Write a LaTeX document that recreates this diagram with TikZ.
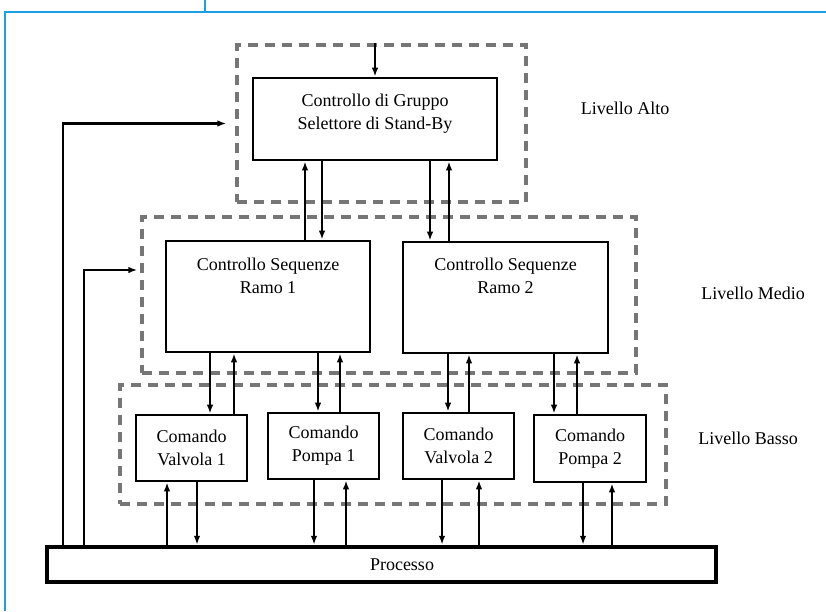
\documentclass[tikz,border=0pt]{standalone}
\usepackage{fontspec}
\setmainfont{Liberation Serif}
\usetikzlibrary{arrows.meta}

\definecolor{framecol}{RGB}{27,161,226}
\definecolor{dashgray}{RGB}{118,118,118}

\begin{document}
\begin{tikzpicture}[x=1pt, y=-1pt,
    box/.style={draw, line width=2.6pt, inner sep=0pt},
    level/.style={draw=dashgray, line width=3.2pt, dash pattern=on 10pt off 7pt, inner sep=0pt},
    txt/.style={align=center, font=\fontsize{18}{23}\selectfont},
    arr/.style={line width=2.3pt, -{Latex[length=9pt,width=6.5pt]}}]
    \useasboundingbox (0,0) rectangle (826,611);

    % page frame
    \draw[framecol, line width=1.6pt] (826,12) -- (5,12) -- (5,611);
    \draw[framecol, line width=1.3pt] (205,0) -- (205,12);

    % levels
    \node[level, minimum width=289pt, minimum height=157pt] (alto) at (381.5,123.5) {};
    \node[level, minimum width=494pt, minimum height=156pt] (medio) at (389,295) {};
    \node[level, minimum width=546pt, minimum height=119pt] (basso) at (393,444.5) {};

    \node[txt] (lalto) at (625,108) {Livello Alto};
    \node[txt] (lmedio) at (753,293) {Livello Medio};
    \node[txt] (lbasso) at (748,438) {Livello Basso};

    % blocks
    \node[box, minimum width=244pt, minimum height=82pt] (gruppo) at (375,119) {};
    \node[txt] (gruppotxt) at (375,113.5) {Controllo di Gruppo\\Selettore di Stand-By};

    \node[box, minimum width=204pt, minimum height=111pt] (ramo1) at (268,296.5) {};
    \node[txt] (ramo1txt) at (268,275.5) {Controllo Sequenze\\Ramo 1};
    \node[box, minimum width=205pt, minimum height=111pt] (ramo2) at (505.5,297.5) {};
    \node[txt] (ramo2txt) at (505.5,276) {Controllo Sequenze\\Ramo 2};

    \node[box, txt, minimum width=111pt, minimum height=66pt] (valv1) at (191.5,448) {Comando\\Valvola 1};
    \node[box, txt, minimum width=111pt, minimum height=66pt] (pomp1) at (323.5,446) {Comando\\Pompa 1};
    \node[box, txt, minimum width=111pt, minimum height=66pt] (valv2) at (458.5,446) {Comando\\Valvola 2};
    \node[box, txt, minimum width=112pt, minimum height=67pt] (pomp2) at (590,448.5) {Comando\\Pompa 2};

    \node[box, line width=4.5pt, minimum width=669pt, minimum height=35pt] (processo) at (381.5,564.5) {};
    \node[txt] (processotxt) at (402,565) {Processo};

    % top level
    \draw[arr] (alto.north -| 375,0) -- (gruppo.north -| 375,0);
    \draw[arr] (ramo1.north -| 305,0) -- (gruppo.south -| 305,0);
    \draw[arr] (gruppo.south -| 322,0) -- (ramo1.north -| 322,0);
    \draw[arr] (gruppo.south -| 430,0) -- (ramo2.north -| 430,0);
    \draw[arr] (ramo2.north -| 449,0) -- (gruppo.south -| 449,0);

    % middle level
    \draw[arr] (ramo1.south -| 210,0) -- (valv1.north -| 210,0);
    \draw[arr] (valv1.north -| 234,0) -- (ramo1.south -| 234,0);
    \draw[arr] (ramo1.south -| 318,0) -- (pomp1.north -| 318,0);
    \draw[arr] (pomp1.north -| 340,0) -- (ramo1.south -| 340,0);
    \draw[arr] (ramo2.south -| 448,0) -- (valv2.north -| 448,0);
    \draw[arr] (valv2.north -| 469,0) -- (ramo2.south -| 469,0);
    \draw[arr] (ramo2.south -| 554,0) -- (pomp2.north -| 554,0);
    \draw[arr] (pomp2.north -| 577,0) -- (ramo2.south -| 577,0);

    % low level
    \draw[arr] (processo.north -| 167,0) -- (valv1.south -| 167,0);
    \draw[arr] (valv1.south -| 197,0) -- (processo.north -| 197,0);
    \draw[arr] (pomp1.south -| 314,0) -- (processo.north -| 314,0);
    \draw[arr] (processo.north -| 346,0) -- (pomp1.south -| 346,0);
    \draw[arr] (valv2.south -| 442,0) -- (processo.north -| 442,0);
    \draw[arr] (processo.north -| 479,0) -- (valv2.south -| 479,0);
    \draw[arr] (pomp2.south -| 583,0) -- (processo.north -| 583,0);
    \draw[arr] (processo.north -| 612,0) -- (pomp2.south -| 612,0);

    % feedback
    \draw[arr, shorten >=9pt] (processo.north -| 63,0) |- (alto.west);
    \draw[arr, shorten >=3pt] (processo.north -| 84,0) |- (medio.west |- 0,270);
\end{tikzpicture}
\end{document}
